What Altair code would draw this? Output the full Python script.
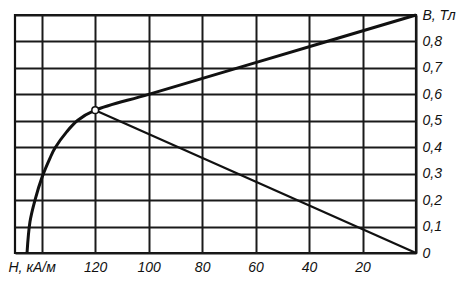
import altair as alt
import pandas as pd

# Demagnetization curve (H in kA/m, B in T)
curve_H = [145.5, 144.4, 142.5, 139.9, 136.9, 135.1, 130.6, 126.5, 120, 100, 60, 0]
curve_B = [0.0, 0.118, 0.201, 0.286, 0.359, 0.396, 0.459, 0.502, 0.54, 0.60, 0.72, 0.90]

# Load line from operating point to origin
load_H = [120, 0]
load_B = [0.54, 0.0]

# Operating point
point_H = [120]
point_B = [0.54]

x_ticks = [0, 20, 40, 60, 80, 100, 120, 140]
y_ticks = [0, 0.1, 0.2, 0.3, 0.4, 0.5, 0.6, 0.7, 0.8, 0.9]

FONT = "Liberation Sans, Arial, sans-serif"

curve_df = pd.DataFrame({"H": curve_H, "B": curve_B, "i": list(range(len(curve_H)))})
load_df = pd.DataFrame({"H": load_H, "B": load_B, "i": list(range(len(load_H)))})
pt_df = pd.DataFrame({"H": point_H, "B": point_B})

xscale = alt.Scale(domain=[0, 150], reverse=True, nice=False, zero=False)
yscale = alt.Scale(domain=[0, 0.9], nice=False)

xaxis = alt.Axis(
    values=x_ticks,
    labelExpr="(datum.value == 0 || datum.value == 140) ? '' : datum.label",
    grid=True, ticks=False, domain=False, labelOverlap=False,
    labelPadding=7, labelFontSize=14, labelFont=FONT, labelFontStyle="italic",
    labelColor="#111",
    title="H, кА/м", titleFont=FONT, titleFontSize=14, titleFontStyle="italic",
    titleFontWeight="normal", titleColor="#111",
    titleX=-7, titleY=7, titleAlign="left", titleBaseline="top",
    gridColor="#1a1a1a", gridWidth=2, gridOpacity=1,
)
yaxis = alt.Axis(
    orient="right", values=y_ticks,
    labelExpr="datum.value > 0.85 ? 'B, Тл' : (datum.value == 0 ? '0' : replace(format(datum.value, '.1f'), '.', ','))",
    grid=True, ticks=False, domain=False, labelOverlap=False, labelBound=False,
    labelPadding=6, labelFontSize=14, labelFont=FONT, labelFontStyle="italic",
    labelColor="#111", title=None,
    gridColor="#1a1a1a", gridWidth=1.8, gridOpacity=1,
)

X = alt.X("H:Q", scale=xscale, axis=xaxis)
Y = alt.Y("B:Q", scale=yscale, axis=yaxis)

curve = alt.Chart(curve_df).mark_line(color="#111", strokeWidth=3, interpolate="catmull-rom").encode(
    x=X, y=Y, order="i:O",
)
load = alt.Chart(load_df).mark_line(color="#111", strokeWidth=2.2).encode(
    x=X, y=Y, order="i:O",
)
pt = alt.Chart(pt_df).mark_point(shape="circle", size=45, filled=True, fill="white",
                                 stroke="#111", strokeWidth=1.5, opacity=1).encode(
    x=X, y=Y,
)

chart = alt.layer(curve, load, pt).properties(
    width=401, height=238,
    autosize=alt.AutoSizeParams(type="none"),
    padding={"left": 15, "top": 15, "right": 44, "bottom": 28},
    background="white",
).configure_view(stroke="#111", strokeWidth=2.2)

chart.save("out.html", embed_options={"renderer": "svg", "actions": False})
